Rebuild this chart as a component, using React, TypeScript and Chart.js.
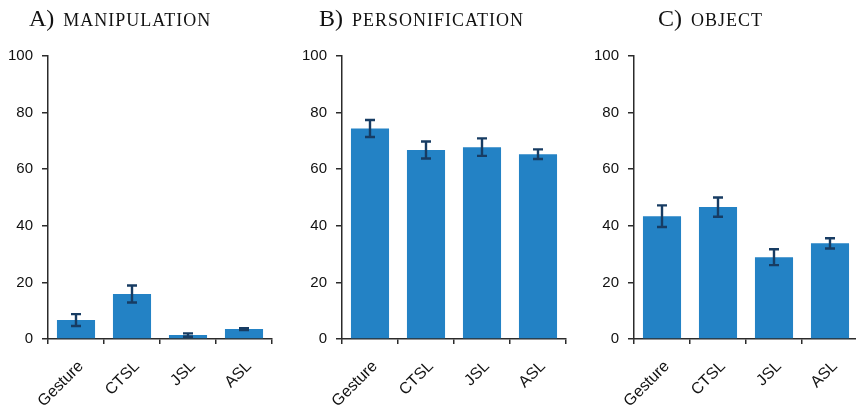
import React, { useEffect, useRef } from "react";
import { Chart, registerables } from "chart.js";

Chart.register(...registerables);

const categories = ["Gesture", "CTSL", "JSL", "ASL"];

const manipulationValues = [6.7, 15.9, 1.4, 3.5];
const manipulationErrors = [2.1, 3.0, 0.6, 0.3];

const personificationValues = [74.4, 66.8, 67.8, 65.3];
const personificationErrors = [3.0, 3.0, 3.1, 1.7];

const objectValues = [43.4, 46.6, 28.9, 33.8];
const objectErrors = [3.8, 3.4, 2.8, 1.8];

const yTicks = [0, 20, 40, 60, 80, 100];

const BAR_COLOR = "#2382c5";
const ERR_COLOR = "#173c63";
const AXIS_COLOR = "#2b2b2b";

const errorBarPlugin = {
  id: "errorBars",
  afterDatasetsDraw(chart: any, _args: any, opts: any) {
    const errs: number[] = opts.errors || [];
    const meta = chart.getDatasetMeta(0);
    const yScale = chart.scales.y;
    const values = chart.data.datasets[0].data as number[];
    const ctx = chart.ctx;
    ctx.save();
    ctx.strokeStyle = ERR_COLOR;
    ctx.lineWidth = 2.4;
    meta.data.forEach((bar: any, i: number) => {
      const v = values[i];
      const e = errs[i] ?? 0;
      const yTop = yScale.getPixelForValue(v + e);
      const yBot = yScale.getPixelForValue(v - e);
      const x = bar.x;
      const cap = 5;
      ctx.beginPath();
      ctx.moveTo(x, yTop);
      ctx.lineTo(x, yBot);
      ctx.moveTo(x - cap, yTop);
      ctx.lineTo(x + cap, yTop);
      ctx.moveTo(x - cap, yBot);
      ctx.lineTo(x + cap, yBot);
      ctx.stroke();
    });
    ctx.restore();
  },
};

type PanelProps = {
  left: number;
  width: number;
  yAxisWidth: number;
  padRight: number;
  values: number[];
  errors: number[];
};

function Panel({ left, width, yAxisWidth, padRight, values, errors }: PanelProps) {
  const ref = useRef<HTMLCanvasElement | null>(null);
  useEffect(() => {
    if (!ref.current) return;
    const chart = new Chart(ref.current, {
      type: "bar",
      data: {
        labels: categories,
        datasets: [
          {
            data: values,
            backgroundColor: BAR_COLOR,
            borderWidth: 0,
            barPercentage: 0.68,
            categoryPercentage: 1,
          },
        ],
      },
      plugins: [errorBarPlugin],
      options: {
        responsive: false,
        animation: false,
        layout: { padding: { top: 56, right: padRight, left: 0, bottom: 0 } },
        plugins: {
          legend: { display: false },
          tooltip: { enabled: false },
          errorBars: { errors },
        } as any,
        scales: {
          x: {
            afterFit: (scale: any) => {
              scale.height = 69;
            },
            border: { display: true, color: AXIS_COLOR, width: 1.5 },
            grid: {
              display: true,
              drawOnChartArea: false,
              drawTicks: true,
              tickLength: 5,
              color: AXIS_COLOR,
              lineWidth: 1.5,
              offset: true,
            },
            ticks: {
              minRotation: 45,
              maxRotation: 45,
              padding: 13,
              labelOffset: 5,
              color: "#111",
              font: { family: "Liberation Sans, Arial", size: 16 },
            },
          },
          y: {
            min: 0,
            max: 100,
            afterFit: (scale: any) => {
              scale.width = yAxisWidth;
            },
            afterBuildTicks: (scale: any) => {
              scale.ticks = yTicks.map((v) => ({ value: v }));
            },
            border: { display: true, color: AXIS_COLOR, width: 1.5 },
            grid: {
              display: true,
              drawOnChartArea: false,
              drawTicks: true,
              tickLength: 6,
              color: AXIS_COLOR,
              lineWidth: 1.5,
            },
            ticks: {
              padding: 9,
              color: "#111",
              font: { family: "Liberation Sans, Arial", size: 15 },
            },
          },
        },
      },
    });
    return () => chart.destroy();
  }, []);
  return (
    <canvas
      ref={ref}
      width={width}
      height={408}
      style={{ position: "absolute", left, top: 0, width, height: 408 }}
    />
  );
}

const titleStyle: React.CSSProperties = {
  position: "absolute",
  top: 1,
  fontFamily: "Liberation Serif, Times New Roman, serif",
  fontSize: 24,
  lineHeight: "34px",
  color: "#111",
  whiteSpace: "nowrap",
};

const capsStyle: React.CSSProperties = {
  fontSize: 18,
  letterSpacing: 1.0,
  marginLeft: 9,
};

function Title({ left, letter, text }: { left: number; letter: string; text: string }) {
  return (
    <div style={{ ...titleStyle, left }}>
      {letter}
      <span style={capsStyle}>{text}</span>
    </div>
  );
}

export default function App() {
  return (
    <div
      style={{
        position: "absolute",
        left: 0,
        top: 0,
        width: 856,
        height: 408,
        overflow: "hidden",
        background: "#fff",
      }}
    >
      <Panel left={0} width={290} yAxisWidth={48} padRight={18} values={manipulationValues} errors={manipulationErrors} />
      <Panel left={290} width={290} yAxisWidth={52} padRight={14} values={personificationValues} errors={personificationErrors} />
      <Panel left={580} width={290} yAxisWidth={54} padRight={12} values={objectValues} errors={objectErrors} />
      <Title left={29} letter="A)" text="MANIPULATION" />
      <Title left={319} letter="B)" text="PERSONIFICATION" />
      <Title left={658} letter="C)" text="OBJECT" />
    </div>
  );
}
